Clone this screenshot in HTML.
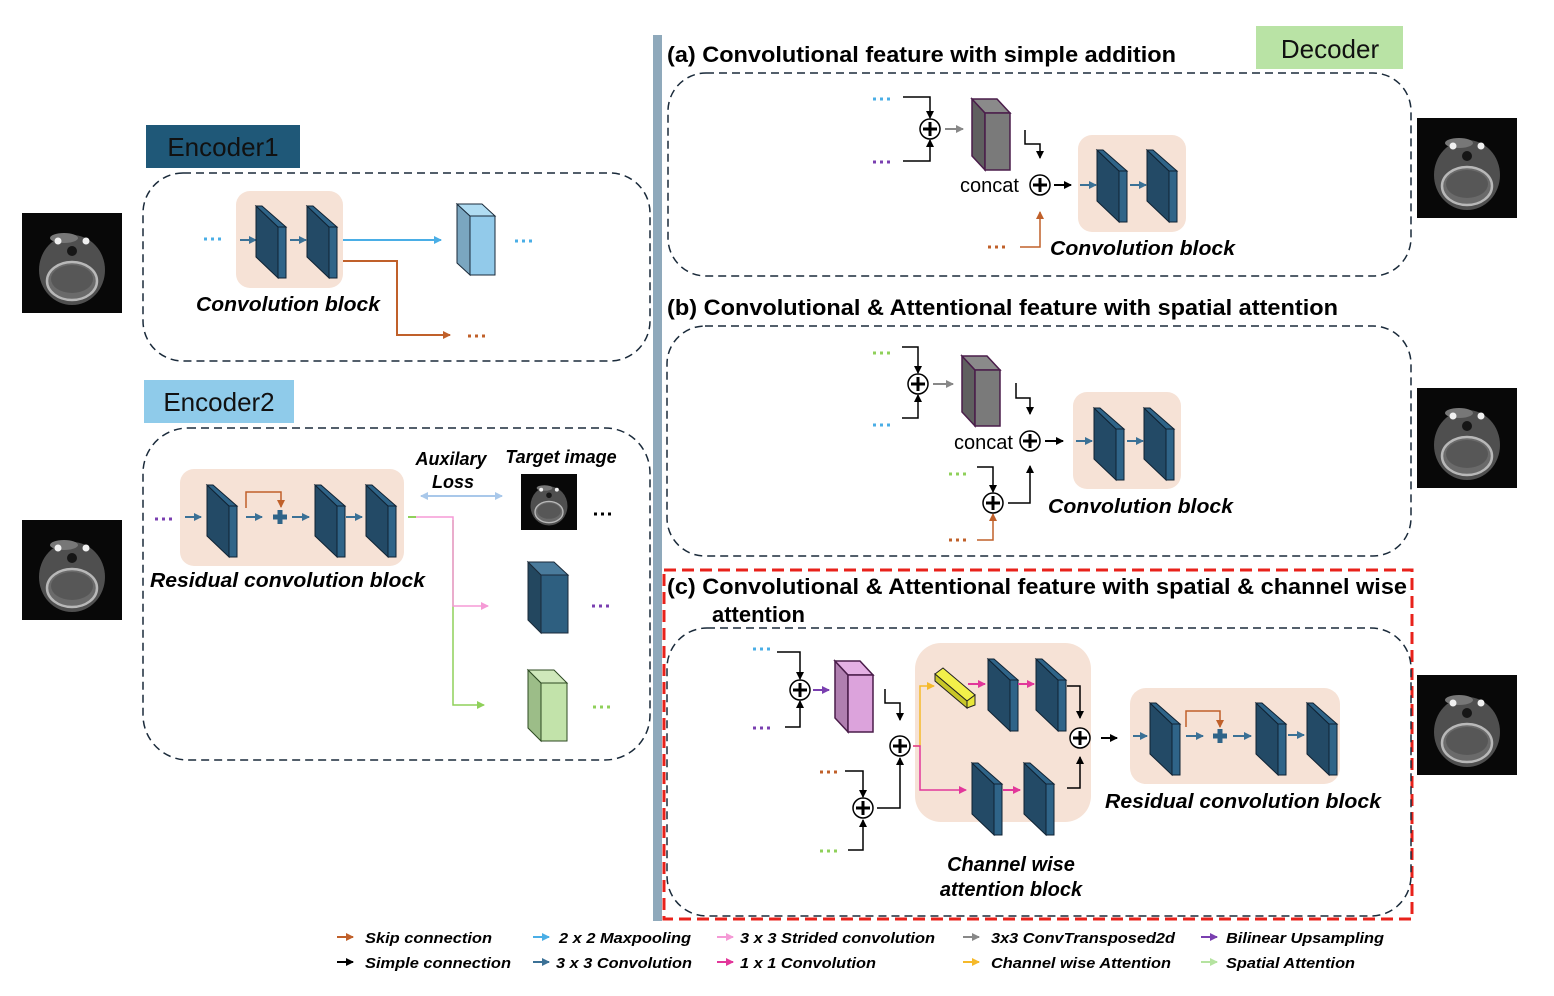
<!DOCTYPE html>
<html><head><meta charset="utf-8"><style>
html,body{margin:0;padding:0;background:#fff;}
svg{display:block;}
text{font-family:"Liberation Sans",sans-serif;}
.bi{font-weight:bold;font-style:italic;}
.lg{font-weight:bold;font-style:italic;font-size:15px;}
.d{stroke-width:3;stroke-dasharray:3,4;}
</style></head><body>
<svg width="1554" height="996" viewBox="0 0 1554 996" xmlns="http://www.w3.org/2000/svg">
<defs>
<marker id="m-k" markerWidth="8" markerHeight="8" refX="7" refY="4" orient="auto" markerUnits="userSpaceOnUse"><path d="M0,0 L8,4 L0,8 Z" fill="#000"/></marker>
<marker id="m-o" markerWidth="8" markerHeight="8" refX="7" refY="4" orient="auto" markerUnits="userSpaceOnUse"><path d="M0,0 L8,4 L0,8 Z" fill="#c0602a"/></marker>
<marker id="m-lb" markerWidth="8" markerHeight="8" refX="7" refY="4" orient="auto" markerUnits="userSpaceOnUse"><path d="M0,0 L8,4 L0,8 Z" fill="#4aaee6"/></marker>
<marker id="m-ab" markerWidth="8" markerHeight="8" refX="7" refY="4" orient="auto-start-reverse" markerUnits="userSpaceOnUse"><path d="M0,0 L8,4 L0,8 Z" fill="#a9c8ea"/></marker>
<marker id="m-pk" markerWidth="8" markerHeight="8" refX="7" refY="4" orient="auto" markerUnits="userSpaceOnUse"><path d="M0,0 L8,4 L0,8 Z" fill="#f59ad6"/></marker>
<marker id="m-g" markerWidth="8" markerHeight="8" refX="7" refY="4" orient="auto" markerUnits="userSpaceOnUse"><path d="M0,0 L8,4 L0,8 Z" fill="#8fd05a"/></marker>
<marker id="m-lg" markerWidth="8" markerHeight="8" refX="7" refY="4" orient="auto" markerUnits="userSpaceOnUse"><path d="M0,0 L8,4 L0,8 Z" fill="#b5e3a0"/></marker>
<marker id="m-gy" markerWidth="8" markerHeight="8" refX="7" refY="4" orient="auto" markerUnits="userSpaceOnUse"><path d="M0,0 L8,4 L0,8 Z" fill="#888"/></marker>
<marker id="m-pu" markerWidth="8" markerHeight="8" refX="7" refY="4" orient="auto" markerUnits="userSpaceOnUse"><path d="M0,0 L8,4 L0,8 Z" fill="#7a3fb0"/></marker>
<marker id="m-sb" markerWidth="8" markerHeight="8" refX="7" refY="4" orient="auto" markerUnits="userSpaceOnUse"><path d="M0,0 L8,4 L0,8 Z" fill="#3b7196"/></marker>
<marker id="m-mg" markerWidth="8" markerHeight="8" refX="7" refY="4" orient="auto" markerUnits="userSpaceOnUse"><path d="M0,0 L8,4 L0,8 Z" fill="#e2379a"/></marker>
<marker id="m-y" markerWidth="8" markerHeight="8" refX="7" refY="4" orient="auto" markerUnits="userSpaceOnUse"><path d="M0,0 L8,4 L0,8 Z" fill="#f5b92a"/></marker>
<g id="plate">
<polygon points="0,0 22,21 22,72 0,51" fill="#234a66" stroke="#0f2233" stroke-width="1"/>
<polygon points="0,0 6,0 30,21 22,21" fill="#2f6488" stroke="#0f2233" stroke-width="1"/>
<polygon points="22,21 30,21 30,72 22,72" fill="#2f6488" stroke="#0f2233" stroke-width="1"/>
</g>
<g id="ct">
<rect x="0" y="0" width="100" height="100" fill="#080808"/>
<ellipse cx="50" cy="57" rx="33" ry="35" fill="#4f4f4f"/>
<ellipse cx="50" cy="68" rx="25" ry="19" fill="#6a6a6a" stroke="#b8b8b8" stroke-width="2.5"/>
<ellipse cx="50" cy="66" rx="21" ry="14" fill="#575757"/>
<ellipse cx="50" cy="38" rx="5" ry="5" fill="#161616"/>
<ellipse cx="42" cy="25" rx="14" ry="5" fill="#777"/>
<circle cx="36" cy="28" r="3.5" fill="#f0f0f0"/><circle cx="64" cy="28" r="3.5" fill="#f0f0f0"/>
</g>
<g id="oplus"><circle r="10" fill="#fff" stroke="#000" stroke-width="1.5"/><path d="M-7,0 H7 M0,-7 V7" stroke="#000" stroke-width="3"/></g>
<g id="rplus"><path d="M-7,0 H7 M0,-7 V7" stroke="#2f6488" stroke-width="5"/></g>
</defs>

<!-- ============ LEFT ============ -->
<rect x="146" y="125" width="154" height="43" fill="#1f5878"/>
<text x="223" y="156" font-size="26" text-anchor="middle" fill="#111">Encoder1</text>
<rect x="143" y="173" width="507" height="188" rx="40" fill="none" stroke="#1a2a3a" stroke-width="1.5" stroke-dasharray="8,5"/>
<use href="#ct" x="22" y="213"/>
<rect x="236" y="191" width="107" height="97" rx="14" fill="#f6e2d6"/>
<line class="d" x1="204" y1="239" x2="224" y2="239" stroke="#4aaee6"/>
<line x1="240" y1="240" x2="256" y2="240" stroke="#3b7196" stroke-width="2" marker-end="url(#m-sb)"/>
<use href="#plate" x="256" y="206"/>
<line x1="290" y1="240" x2="306" y2="240" stroke="#3b7196" stroke-width="2" marker-end="url(#m-sb)"/>
<use href="#plate" x="307" y="206"/>
<line x1="343" y1="240" x2="441" y2="240" stroke="#4aaee6" stroke-width="2" marker-end="url(#m-lb)"/>
<polygon points="457,204 470,216 470,275 457,263" fill="#7aa6c0" stroke="#1a2a3a"/>
<polygon points="457,204 482,204 495,216 470,216" fill="#b0dcf2" stroke="#1a2a3a"/>
<rect x="470" y="216" width="25" height="59" fill="#92caea" stroke="#1a2a3a"/>
<line class="d" x1="515" y1="241" x2="535" y2="241" stroke="#4aaee6"/>
<polyline points="343,261 397,261 397,335 450,335" fill="none" stroke="#c0602a" stroke-width="2" marker-end="url(#m-o)"/>
<line class="d" x1="468" y1="336" x2="488" y2="336" stroke="#c0602a"/>
<text x="196" y="311" font-size="20" class="bi" textLength="184" lengthAdjust="spacingAndGlyphs">Convolution block</text>

<rect x="144" y="380" width="150" height="43" fill="#8fcbea"/>
<text x="219" y="411" font-size="26" text-anchor="middle" fill="#111">Encoder2</text>
<rect x="143" y="428" width="507" height="332" rx="45" fill="none" stroke="#1a2a3a" stroke-width="1.5" stroke-dasharray="8,5"/>
<use href="#ct" x="22" y="520"/>
<rect x="180" y="469" width="224" height="97" rx="14" fill="#f6e2d6"/>
<line class="d" x1="155" y1="519" x2="175" y2="519" stroke="#7a3fb0"/>
<line x1="185" y1="517" x2="201" y2="517" stroke="#3b7196" stroke-width="2" marker-end="url(#m-sb)"/>
<use href="#plate" x="207" y="485"/>
<polyline points="246,508 246,492 281,492 281,507" fill="none" stroke="#c0602a" stroke-width="1.5" marker-end="url(#m-o)"/>
<line x1="246" y1="517" x2="262" y2="517" stroke="#3b7196" stroke-width="2" marker-end="url(#m-sb)"/>
<use href="#rplus" x="280" y="517"/>
<line x1="292" y1="517" x2="309" y2="517" stroke="#3b7196" stroke-width="2" marker-end="url(#m-sb)"/>
<use href="#plate" x="315" y="485"/>
<line x1="346" y1="517" x2="362" y2="517" stroke="#3b7196" stroke-width="2" marker-end="url(#m-sb)"/>
<use href="#plate" x="366" y="485"/>
<text x="150" y="587" font-size="20" class="bi" textLength="275" lengthAdjust="spacingAndGlyphs">Residual convolution block</text>
<polyline points="453,520 453,705 484,705" fill="none" stroke="#8fd05a" stroke-width="1.5" marker-end="url(#m-g)"/>
<line x1="408" y1="517" x2="416" y2="517" stroke="#8fd05a" stroke-width="2"/>
<polyline points="416,517 453,517 453,606 488,606" fill="none" stroke="#f59ad6" stroke-width="1.5" marker-end="url(#m-pk)"/>
<line x1="421" y1="496" x2="502" y2="496" stroke="#a9c8ea" stroke-width="2" marker-start="url(#m-ab)" marker-end="url(#m-ab)"/>
<text x="451" y="465" font-size="18" class="bi" text-anchor="middle">Auxilary</text>
<text x="453" y="488" font-size="18" class="bi" text-anchor="middle">Loss</text>
<text x="561" y="463" font-size="18" class="bi" text-anchor="middle">Target image</text>
<g transform="translate(521,474) scale(0.56)"><use href="#ct"/></g>
<line class="d" x1="594" y1="514" x2="614" y2="514" stroke="#000"/>
<polygon points="528,562 541,575 541,633 528,620" fill="#23475f" stroke="#1a2a3a"/>
<polygon points="528,562 554,562 568,575 541,575" fill="#4a7b9c" stroke="#1a2a3a"/>
<rect x="541" y="575" width="27" height="58" fill="#2e5f80" stroke="#1a2a3a"/>
<line class="d" x1="592" y1="606" x2="612" y2="606" stroke="#7a3fb0"/>
<polygon points="528,670 541,683 541,741 528,728" fill="#9cbd88" stroke="#2d4a22"/>
<polygon points="528,670 554,670 567,683 541,683" fill="#cfe8bb" stroke="#2d4a22"/>
<rect x="541" y="683" width="26" height="58" fill="#c2e3aa" stroke="#2d4a22"/>
<line class="d" x1="593" y1="707" x2="613" y2="707" stroke="#8fd05a"/>

<rect x="653" y="35" width="9" height="886" fill="#8fa9bb"/>

<!-- ============ DECODER ============ -->
<rect x="1256" y="26" width="147" height="43" fill="#b9e3a5"/>
<text x="1330" y="58" font-size="26" text-anchor="middle" fill="#111">Decoder</text>

<!-- (a) -->
<text x="667" y="62" font-size="22" font-weight="bold" textLength="509" lengthAdjust="spacingAndGlyphs">(a) Convolutional feature with simple addition</text>
<rect x="668" y="73" width="743" height="203" rx="38" fill="none" stroke="#1a2a3a" stroke-width="1.5" stroke-dasharray="8,5"/>
<line class="d" x1="873" y1="99" x2="893" y2="99" stroke="#4aaee6"/>
<polyline points="903,97 930,97 930,118" fill="none" stroke="#000" stroke-width="1.5" marker-end="url(#m-k)"/>
<line class="d" x1="873" y1="162" x2="893" y2="162" stroke="#7a3fb0"/>
<polyline points="903,161 930,161 930,140" fill="none" stroke="#000" stroke-width="1.5" marker-end="url(#m-k)"/>
<use href="#oplus" x="930" y="129"/>
<line x1="945" y1="129" x2="963" y2="129" stroke="#888" stroke-width="2" marker-end="url(#m-gy)"/>
<polygon points="972,99 985,113 985,170 972,156" fill="#5f5f5f" stroke="#4a1d4a" stroke-width="1.5"/>
<polygon points="972,99 997,99 1010,113 985,113" fill="#8a8a8a" stroke="#4a1d4a" stroke-width="1.5"/>
<rect x="985" y="113" width="25" height="57" fill="#7a7a7a" stroke="#4a1d4a" stroke-width="1.5"/>
<polyline points="1025,130 1025,144 1040,144 1040,158" fill="none" stroke="#000" stroke-width="1.5" marker-end="url(#m-k)"/>
<text x="960" y="192" font-size="20">concat</text>
<use href="#oplus" x="1040" y="185"/>
<line x1="1054" y1="185" x2="1071" y2="185" stroke="#000" stroke-width="2" marker-end="url(#m-k)"/>
<rect x="1078" y="135" width="108" height="97" rx="14" fill="#f6e2d6"/>
<line x1="1080" y1="185" x2="1096" y2="185" stroke="#3b7196" stroke-width="2" marker-end="url(#m-sb)"/>
<use href="#plate" x="1097" y="150"/>
<line x1="1130" y1="185" x2="1146" y2="185" stroke="#3b7196" stroke-width="2" marker-end="url(#m-sb)"/>
<use href="#plate" x="1147" y="150"/>
<line class="d" x1="988" y1="247" x2="1008" y2="247" stroke="#c0602a"/>
<polyline points="1020,247 1040,247 1040,212" fill="none" stroke="#c0602a" stroke-width="1.5" marker-end="url(#m-o)"/>
<text x="1050" y="255" font-size="20" class="bi" textLength="185" lengthAdjust="spacingAndGlyphs">Convolution block</text>
<use href="#ct" x="1417" y="118"/>

<!-- (b) -->
<text x="667" y="315" font-size="22" font-weight="bold" textLength="671" lengthAdjust="spacingAndGlyphs">(b) Convolutional &amp; Attentional feature with spatial attention</text>
<rect x="667" y="326" width="744" height="230" rx="38" fill="none" stroke="#1a2a3a" stroke-width="1.5" stroke-dasharray="8,5"/>
<line class="d" x1="873" y1="353" x2="893" y2="353" stroke="#8fd05a"/>
<polyline points="902,347 918,347 918,373" fill="none" stroke="#000" stroke-width="1.5" marker-end="url(#m-k)"/>
<line class="d" x1="873" y1="425" x2="893" y2="425" stroke="#4aaee6"/>
<polyline points="902,418 918,418 918,395" fill="none" stroke="#000" stroke-width="1.5" marker-end="url(#m-k)"/>
<use href="#oplus" x="918" y="384"/>
<line x1="933" y1="384" x2="953" y2="384" stroke="#888" stroke-width="2" marker-end="url(#m-gy)"/>
<polygon points="962,356 975,370 975,426 962,412" fill="#5f5f5f" stroke="#4a1d4a" stroke-width="1.5"/>
<polygon points="962,356 987,356 1000,370 975,370" fill="#8a8a8a" stroke="#4a1d4a" stroke-width="1.5"/>
<rect x="975" y="370" width="25" height="56" fill="#7a7a7a" stroke="#4a1d4a" stroke-width="1.5"/>
<polyline points="1016,383 1016,398 1030,398 1030,414" fill="none" stroke="#000" stroke-width="1.5" marker-end="url(#m-k)"/>
<text x="954" y="449" font-size="20">concat</text>
<use href="#oplus" x="1030" y="441"/>
<line x1="1045" y1="441" x2="1063" y2="441" stroke="#000" stroke-width="2" marker-end="url(#m-k)"/>
<rect x="1073" y="392" width="108" height="97" rx="14" fill="#f6e2d6"/>
<line x1="1076" y1="441" x2="1092" y2="441" stroke="#3b7196" stroke-width="2" marker-end="url(#m-sb)"/>
<use href="#plate" x="1094" y="408"/>
<line x1="1127" y1="441" x2="1143" y2="441" stroke="#3b7196" stroke-width="2" marker-end="url(#m-sb)"/>
<use href="#plate" x="1144" y="408"/>
<line class="d" x1="949" y1="474" x2="969" y2="474" stroke="#8fd05a"/>
<polyline points="977,467 993,467 993,492" fill="none" stroke="#000" stroke-width="1.5" marker-end="url(#m-k)"/>
<line class="d" x1="949" y1="540" x2="969" y2="540" stroke="#c0602a"/>
<polyline points="977,540 993,540 993,514" fill="none" stroke="#c0602a" stroke-width="1.5" marker-end="url(#m-o)"/>
<use href="#oplus" x="993" y="503"/>
<polyline points="1008,503 1030,503 1030,466" fill="none" stroke="#000" stroke-width="1.5" marker-end="url(#m-k)"/>
<text x="1048" y="513" font-size="20" class="bi" textLength="185" lengthAdjust="spacingAndGlyphs">Convolution block</text>
<use href="#ct" x="1417" y="388"/>

<!-- (c) -->
<rect x="664" y="570" width="748" height="349" fill="none" stroke="#e8221b" stroke-width="3" stroke-dasharray="12,6"/>
<text x="667" y="594" font-size="22" font-weight="bold" textLength="740" lengthAdjust="spacingAndGlyphs">(c) Convolutional &amp; Attentional feature with spatial &amp; channel wise</text>
<text x="712" y="622" font-size="22" font-weight="bold">attention</text>
<rect x="667" y="628" width="744" height="288" rx="40" fill="none" stroke="#1a2a3a" stroke-width="1.5" stroke-dasharray="8,5"/>
<line class="d" x1="753" y1="649" x2="773" y2="649" stroke="#4aaee6"/>
<polyline points="777,652 800,652 800,679" fill="none" stroke="#000" stroke-width="1.5" marker-end="url(#m-k)"/>
<line class="d" x1="753" y1="728" x2="773" y2="728" stroke="#7a3fb0"/>
<polyline points="785,727 800,727 800,701" fill="none" stroke="#000" stroke-width="1.5" marker-end="url(#m-k)"/>
<use href="#oplus" x="800" y="690"/>
<line x1="813" y1="690" x2="829" y2="690" stroke="#7a3fb0" stroke-width="2" marker-end="url(#m-pu)"/>
<polygon points="835,661 848,675 848,732 835,718" fill="#b07fb0" stroke="#4a1d4a" stroke-width="1.5"/>
<polygon points="835,661 860,661 873,675 848,675" fill="#e4b0e4" stroke="#4a1d4a" stroke-width="1.5"/>
<rect x="848" y="675" width="25" height="57" fill="#dca3dc" stroke="#4a1d4a" stroke-width="1.5"/>
<polyline points="885,689 885,703 900,703 900,720" fill="none" stroke="#000" stroke-width="1.5" marker-end="url(#m-k)"/>
<use href="#oplus" x="900" y="746"/>
<line class="d" x1="820" y1="772" x2="840" y2="772" stroke="#c0602a"/>
<polyline points="845,771 863,771 863,797" fill="none" stroke="#000" stroke-width="1.5" marker-end="url(#m-k)"/>
<line class="d" x1="820" y1="851" x2="840" y2="851" stroke="#8fd05a"/>
<polyline points="848,850 863,850 863,820" fill="none" stroke="#000" stroke-width="1.5" marker-end="url(#m-k)"/>
<use href="#oplus" x="863" y="808"/>
<polyline points="877,808 900,808 900,758" fill="none" stroke="#000" stroke-width="1.5" marker-end="url(#m-k)"/>
<rect x="915" y="643" width="176" height="179" rx="26" fill="#f6e2d6"/>
<polyline points="913,746 920,746 920,686 934,686" fill="none" stroke="#f5b92a" stroke-width="1.5" marker-end="url(#m-y)"/>
<polyline points="913,746 920,746 920,790 966,790" fill="none" stroke="#e2379a" stroke-width="1.5" marker-end="url(#m-mg)"/>
<polygon points="935,674 943,668 975,695 967,701" fill="#f2f04a" stroke="#222"/>
<polygon points="967,701 975,695 975,705 967,708" fill="#e8e63a" stroke="#222"/>
<polygon points="935,674 967,701 967,708 935,681" fill="#c8c628" stroke="#222"/>
<line x1="968" y1="684" x2="985" y2="684" stroke="#e2379a" stroke-width="2" marker-end="url(#m-mg)"/>
<use href="#plate" x="988" y="659"/>
<line x1="1018" y1="684" x2="1034" y2="684" stroke="#e2379a" stroke-width="2" marker-end="url(#m-mg)"/>
<use href="#plate" x="1036" y="659"/>
<use href="#plate" x="972" y="763"/>
<line x1="1003" y1="790" x2="1020" y2="790" stroke="#e2379a" stroke-width="2" marker-end="url(#m-mg)"/>
<use href="#plate" x="1024" y="763"/>
<polyline points="1067,686 1080,686 1080,718" fill="none" stroke="#000" stroke-width="1.5" marker-end="url(#m-k)"/>
<polyline points="1067,788 1080,788 1080,757" fill="none" stroke="#000" stroke-width="1.5" marker-end="url(#m-k)"/>
<use href="#oplus" x="1080" y="738"/>
<line x1="1101" y1="738" x2="1117" y2="738" stroke="#000" stroke-width="2" marker-end="url(#m-k)"/>
<rect x="1130" y="688" width="210" height="96" rx="16" fill="#f6e2d6"/>
<line x1="1133" y1="736" x2="1147" y2="736" stroke="#3b7196" stroke-width="2" marker-end="url(#m-sb)"/>
<use href="#plate" x="1150" y="703"/>
<polyline points="1186,727 1186,711 1220,711 1220,727" fill="none" stroke="#c0602a" stroke-width="1.5" marker-end="url(#m-o)"/>
<line x1="1186" y1="736" x2="1203" y2="736" stroke="#3b7196" stroke-width="2" marker-end="url(#m-sb)"/>
<use href="#rplus" x="1220" y="736"/>
<line x1="1233" y1="736" x2="1251" y2="736" stroke="#3b7196" stroke-width="2" marker-end="url(#m-sb)"/>
<use href="#plate" x="1256" y="703"/>
<line x1="1288" y1="735" x2="1304" y2="735" stroke="#3b7196" stroke-width="2" marker-end="url(#m-sb)"/>
<use href="#plate" x="1307" y="703"/>
<text x="1105" y="808" font-size="20" class="bi" textLength="276" lengthAdjust="spacingAndGlyphs">Residual convolution block</text>
<text x="1011" y="871" font-size="20" class="bi" text-anchor="middle">Channel wise</text>
<text x="1011" y="896" font-size="20" class="bi" text-anchor="middle">attention block</text>
<use href="#ct" x="1417" y="675"/>

<!-- legend -->
<g stroke-width="2">
<line x1="337" y1="937" x2="353" y2="937" stroke="#c0602a" marker-end="url(#m-o)"/>
<line x1="337" y1="962" x2="353" y2="962" stroke="#000" marker-end="url(#m-k)"/>
<line x1="533" y1="937" x2="549" y2="937" stroke="#4aaee6" marker-end="url(#m-lb)"/>
<line x1="533" y1="962" x2="549" y2="962" stroke="#3b7196" marker-end="url(#m-sb)"/>
<line x1="717" y1="937" x2="733" y2="937" stroke="#f59ad6" marker-end="url(#m-pk)"/>
<line x1="717" y1="962" x2="733" y2="962" stroke="#e2379a" marker-end="url(#m-mg)"/>
<line x1="963" y1="937" x2="979" y2="937" stroke="#888" marker-end="url(#m-gy)"/>
<line x1="963" y1="962" x2="979" y2="962" stroke="#f5b92a" marker-end="url(#m-y)"/>
<line x1="1201" y1="937" x2="1217" y2="937" stroke="#7a3fb0" marker-end="url(#m-pu)"/>
<line x1="1201" y1="962" x2="1217" y2="962" stroke="#b5e3a0" marker-end="url(#m-lg)"/>
</g>
<text class="lg" x="365" y="943" textLength="127" lengthAdjust="spacingAndGlyphs">Skip connection</text>
<text class="lg" x="365" y="968" textLength="146" lengthAdjust="spacingAndGlyphs">Simple connection</text>
<text class="lg" x="559" y="943" textLength="132" lengthAdjust="spacingAndGlyphs">2 x 2 Maxpooling</text>
<text class="lg" x="556" y="968" textLength="136" lengthAdjust="spacingAndGlyphs">3 x 3 Convolution</text>
<text class="lg" x="740" y="943" textLength="195" lengthAdjust="spacingAndGlyphs">3 x 3 Strided convolution</text>
<text class="lg" x="740" y="968" textLength="136" lengthAdjust="spacingAndGlyphs">1 x 1 Convolution</text>
<text class="lg" x="991" y="943" textLength="184" lengthAdjust="spacingAndGlyphs">3x3 ConvTransposed2d</text>
<text class="lg" x="991" y="968" textLength="180" lengthAdjust="spacingAndGlyphs">Channel wise Attention</text>
<text class="lg" x="1226" y="943" textLength="158" lengthAdjust="spacingAndGlyphs">Bilinear Upsampling</text>
<text class="lg" x="1226" y="968" textLength="129" lengthAdjust="spacingAndGlyphs">Spatial Attention</text>
</svg>
</body></html>
